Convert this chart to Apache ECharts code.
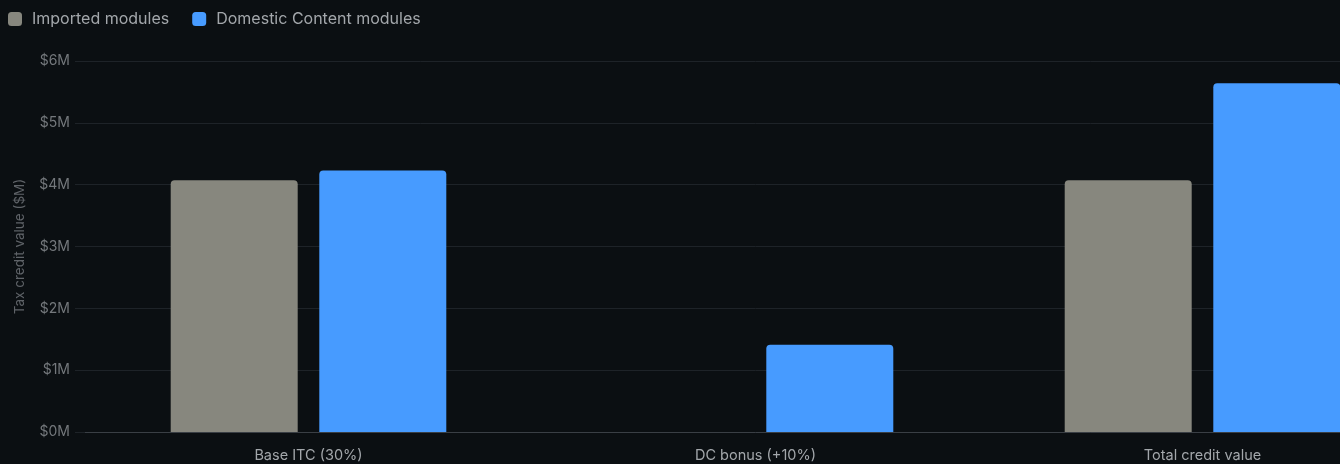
<!DOCTYPE html>
<html>
<head>
<meta charset="utf-8">
<script src="https://cdn.jsdelivr.net/npm/echarts@6/dist/echarts.min.js"></script>
<style>
  html, body { margin: 0; padding: 0; background: #0b0f12; overflow: hidden; }
  #chart { width: 1426px; height: 464px; }
</style>
</head>
<body>
<div id="chart"></div>
<script>
// Tax credit comparison, values in $M
const categories = ['Base ITC (30%)', 'DC bonus (+10%)', 'Total credit value'];
const importedValues = [4.07, 0, 4.07];
const domesticValues = [4.23, 1.41, 5.64];
const yTicks = [0, 1, 2, 3, 4, 5, 6];
const seriesNames = ['Imported modules', 'Domestic Content modules'];

const font = 'Inter, "Noto Sans", sans-serif';
const chart = echarts.init(document.getElementById('chart'));

chart.setOption({
  backgroundColor: '#0b0f12',
  textStyle: { fontFamily: font },
  legend: {
    left: 8,
    top: 11,
    padding: 0,
    itemWidth: 14,
    itemHeight: 14,
    itemGap: 23,
    icon: 'roundRect',
    textStyle: { color: '#a3a7ab', fontSize: 16, fontFamily: font, padding: [0, 0, 0, 5] },
    data: seriesNames
  },
  grid: { left: 85, right: 0, top: 61, bottom: 32 },
  xAxis: {
    type: 'category',
    data: categories,
    axisLine: { lineStyle: { color: '#3a3f45' } },
    axisTick: { show: false },
    axisLabel: { color: '#a3a7ab', fontSize: 14.5, margin: 16, fontFamily: font }
  },
  yAxis: {
    type: 'value',
    min: yTicks[0],
    max: yTicks[yTicks.length - 1],
    interval: 1,
    name: 'Tax credit value ($M)',
    nameLocation: 'middle',
    nameGap: 58,
    nameTextStyle: { color: '#5f6368', fontSize: 13.5, fontFamily: font },
    axisLine: { show: false },
    axisTick: { show: true, length: 10, lineStyle: { color: '#1e2328' } },
    axisLabel: {
      color: '#74787c', fontSize: 14, margin: 15, fontFamily: font,
      formatter: v => '$' + v + 'M'
    },
    splitLine: { lineStyle: { color: '#1e2328' } }
  },
  series: [
    {
      name: seriesNames[0],
      type: 'bar',
      data: importedValues,
      barWidth: 127,
      barGap: '17%',
      itemStyle: { color: '#87877e', borderRadius: [4, 4, 0, 0] },
      z: 1
    },
    {
      name: seriesNames[1],
      type: 'bar',
      data: domesticValues,
      barWidth: 127,
      itemStyle: { color: '#479bff', borderRadius: [4, 4, 0, 0] },
      z: 1
    }
  ]
});
</script>
</body>
</html>
